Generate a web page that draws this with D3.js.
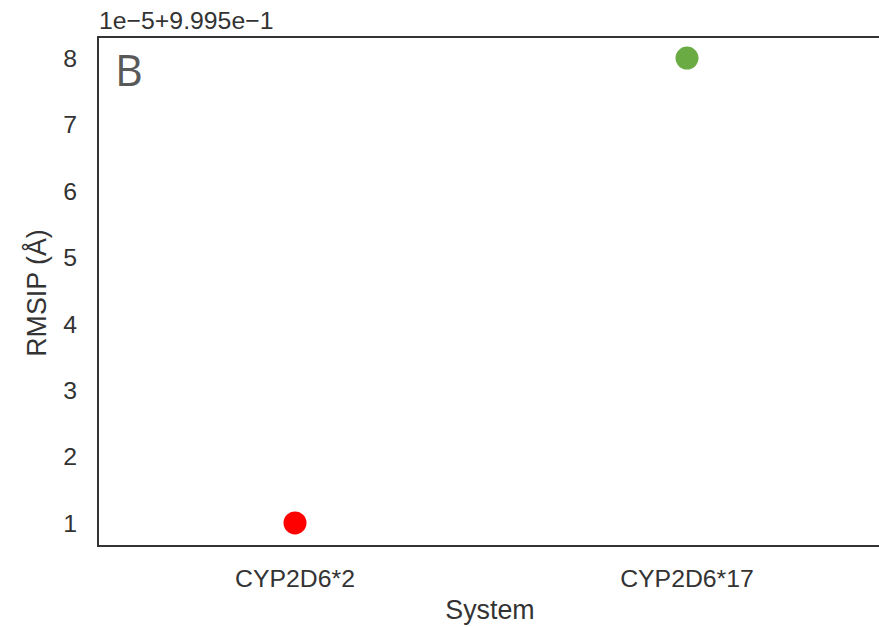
<!DOCTYPE html>
<html>
<head>
<meta charset="utf-8">
<script src="https://cdn.jsdelivr.net/npm/d3@7"></script>
<style>
  html, body { margin: 0; padding: 0; background: #fff; }
  svg { display: block; }
</style>
</head>
<body>
<svg id="chart" width="879" height="627"></svg>
<script>
// RMSIP per system
const systems = ["CYP2D6*2", "CYP2D6*17"];
const rmsip = [0.99951, 0.99958];
const colors = ["#ff0000", "#6aab43"];

// axis offset notation: value = offset + k * scale
const offset = 0.9995;
const scale = 1e-5;
const yTickLabels = [1, 2, 3, 4, 5, 6, 7, 8];

const frame = { left: 98, right: 882, top: 37, bottom: 546 };

const svg = d3.select("#chart");

const x = d3.scalePoint()
  .domain(systems)
  .range([frame.left + 1, frame.right + 1])
  .padding(0.5);

const y = d3.scaleLinear()
  .domain([offset + 0.638 * scale, offset + 8.317 * scale])
  .range([frame.bottom + 1, frame.top]);

const font = "'Liberation Sans', Arial, sans-serif";
const textColor = "#333";
const tickSize = 24.8;
const titleSize = 26.8;

// y tick labels (no tick marks)
svg.append("g")
  .selectAll("text")
  .data(yTickLabels)
  .join("text")
  .attr("x", 77)
  .attr("y", d => y(offset + d * scale))
  .attr("dy", "0.36em")
  .attr("text-anchor", "end")
  .attr("font-family", font)
  .attr("font-size", tickSize)
  .attr("fill", textColor)
  .text(d => d);

// x tick labels
svg.append("g")
  .selectAll("text")
  .data(systems)
  .join("text")
  .attr("x", d => x(d))
  .attr("y", 587)
  .attr("text-anchor", "middle")
  .attr("font-family", font)
  .attr("font-size", tickSize)
  .attr("fill", textColor)
  .text(d => d);

// offset text above the axis
svg.append("text")
  .attr("x", 99)
  .attr("y", 29)
  .attr("font-family", font)
  .attr("font-size", tickSize)
  .attr("fill", textColor)
  .text("1e\u22125+9.995e\u22121");

// axis titles
svg.append("text")
  .attr("x", 490)
  .attr("y", 619)
  .attr("text-anchor", "middle")
  .attr("font-family", font)
  .attr("font-size", titleSize)
  .attr("fill", textColor)
  .text("System");

svg.append("text")
  .attr("transform", `translate(46,293) rotate(-90)`)
  .attr("text-anchor", "middle")
  .attr("font-family", font)
  .attr("font-size", titleSize)
  .attr("fill", textColor)
  .text("RMSIP (Å)");

// frame
svg.append("rect")
  .attr("x", frame.left)
  .attr("y", frame.top)
  .attr("width", frame.right - frame.left)
  .attr("height", frame.bottom - frame.top)
  .attr("fill", "none")
  .attr("stroke", "#333")
  .attr("stroke-width", 2);

// points
svg.append("g")
  .selectAll("circle")
  .data(systems.map((s, i) => ({ s, v: rmsip[i], c: colors[i] })))
  .join("circle")
  .attr("cx", d => x(d.s))
  .attr("cy", d => y(d.v))
  .attr("r", 11.5)
  .attr("fill", d => d.c);

// panel letter
svg.append("text")
  .attr("x", 115)
  .attr("y", 86)
  .attr("font-family", "'Open Sans', sans-serif")
  .attr("font-size", 43)
  .attr("fill", "#595959")
  .text("B");
</script>
</body>
</html>
